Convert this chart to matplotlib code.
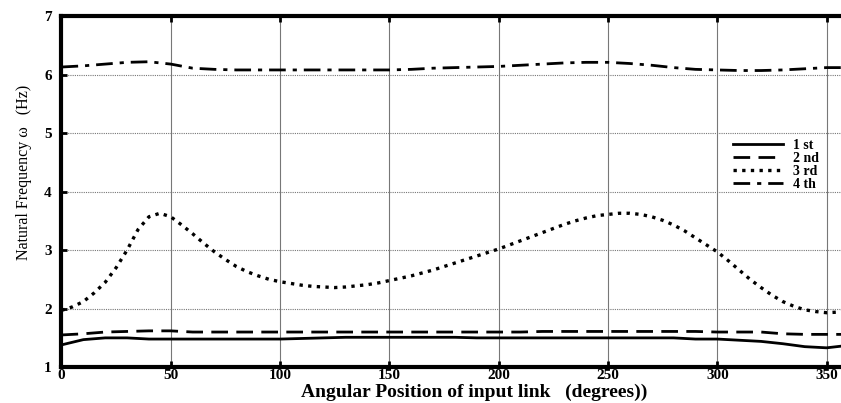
import matplotlib
matplotlib.use('agg')
import matplotlib.pyplot as plt

# angular position (degrees)
angle = [0, 10, 20, 30, 40, 50, 60, 70, 80, 90, 100, 110, 120, 130, 140, 150, 160, 170,
         180, 190, 200, 210, 220, 230, 240, 250, 260, 270, 280, 290, 300, 310, 320, 330,
         340, 350, 357]
first = [1.38, 1.47, 1.50, 1.50, 1.48, 1.48, 1.48, 1.48, 1.48, 1.48, 1.48, 1.49, 1.50, 1.51,
         1.51, 1.51, 1.51, 1.51, 1.51, 1.50, 1.50, 1.50, 1.50, 1.50, 1.50, 1.50, 1.50, 1.50,
         1.50, 1.48, 1.48, 1.46, 1.44, 1.40, 1.35, 1.33, 1.36]
second = [1.55, 1.57, 1.60, 1.61, 1.62, 1.62, 1.60, 1.60, 1.60, 1.60, 1.60, 1.60, 1.60, 1.60,
          1.60, 1.60, 1.60, 1.60, 1.60, 1.60, 1.60, 1.60, 1.61, 1.61, 1.61, 1.61, 1.61, 1.61,
          1.61, 1.61, 1.60, 1.60, 1.60, 1.57, 1.56, 1.56, 1.56]
fourth = [6.13, 6.15, 6.18, 6.21, 6.22, 6.18, 6.11, 6.09, 6.08, 6.08, 6.08, 6.08, 6.08, 6.08,
          6.08, 6.08, 6.09, 6.11, 6.12, 6.13, 6.14, 6.16, 6.18, 6.20, 6.21, 6.21, 6.19, 6.16,
          6.12, 6.09, 6.08, 6.07, 6.07, 6.08, 6.10, 6.12, 6.12]

# third mode sampled finer (strong variation)
angle3 = list(range(0, 360, 5)) + [357]
third = [1.97, 2.03, 2.12, 2.27, 2.45, 2.70, 3.00, 3.35, 3.57, 3.63, 3.57, 3.43, 3.28, 3.12,
         2.97, 2.84, 2.72, 2.63, 2.56, 2.50, 2.46, 2.43, 2.40, 2.38, 2.37, 2.36, 2.37, 2.39,
         2.41, 2.44, 2.48, 2.52, 2.56, 2.61, 2.66, 2.72, 2.78, 2.84, 2.90, 2.96, 3.02, 3.09,
         3.16, 3.23, 3.30, 3.37, 3.44, 3.50, 3.55, 3.59, 3.61, 3.63, 3.63, 3.61, 3.57, 3.51,
         3.43, 3.33, 3.21, 3.09, 2.97, 2.82, 2.66, 2.50, 2.36, 2.23, 2.12, 2.04, 1.98, 1.95,
         1.93, 1.94, 1.95]

labels = ['1 st', '2 nd', '3 rd', '4 th']
xticks = [0, 50, 100, 150, 200, 250, 300, 350]
yticks = [1, 2, 3, 4, 5, 6, 7]

plt.rcParams['font.family'] = ['Liberation Serif', 'DejaVu Serif']

fig = plt.figure(figsize=(8.41, 4.03), dpi=100)
# right spine sits just past the image edge, as in the original scan
ax = fig.add_axes([0.0731, 0.089, 0.9358, 0.871])

ax.plot(angle, first, color='black', lw=2.0, ls='-', label=labels[0])
ax.plot(angle, second, color='black', lw=2.0, ls=(0, (6, 3)), label=labels[1])
ax.plot(angle3, third, color='black', lw=2.4, ls=(0, (1, 1.6)), label=labels[2])
ax.plot(angle, fourth, color='black', lw=2.0, ls=(0, (6, 2.5, 1.5, 2.5)), label=labels[3])

ax.set_xlim(0, 360)
ax.set_ylim(1, 7)
ax.set_xticks(xticks)
ax.set_yticks(yticks)

# vertical grid solid, horizontal grid dotted
ax.grid(axis='x', color='#777777', lw=0.8, ls='-')
ax.grid(axis='y', color='#777777', lw=0.8, ls=(0, (1, 1)))

for s in ax.spines.values():
    s.set_linewidth(3)
ax.tick_params(direction='in', length=4, width=2, top=True, right=True, labelsize=11)
ax.tick_params(axis='x', pad=1)
ax.tick_params(axis='y', pad=7)
for lbl in ax.get_xticklabels() + ax.get_yticklabels():
    lbl.set_fontweight('bold')

ax.set_xlabel('Angular Position of input link   (degrees))', fontsize=14,
              fontweight='bold')
ax.xaxis.set_label_coords(0.524, -0.046)
ax.set_ylabel('Natural Frequency \u03c9   (Hz)', fontsize=11.5)
ax.yaxis.set_label_coords(-0.038, 0.555)

leg = ax.legend(loc='upper left', bbox_to_anchor=(0.845, 0.67), frameon=False,
                prop={'weight': 'bold', 'size': 10}, handlelength=3.6,
                labelspacing=0.0, handletextpad=0.7, borderpad=0)

fig.savefig('out.png', dpi=100)
